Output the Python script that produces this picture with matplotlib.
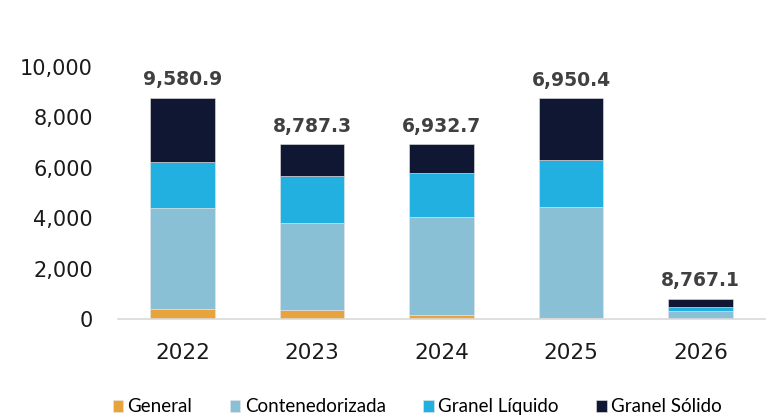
import matplotlib
matplotlib.use("Agg")
import matplotlib.pyplot as plt
import numpy as np

years = ["2022", "2023", "2024", "2025", "2026"]
general = [400, 360, 150, 50, 10]
contenedorizada = [4000, 3450, 3900, 4390, 320]
granel_liquido = [1830, 1860, 1740, 1870, 150]
granel_solido = [2557.3, 1262.7, 1160.4, 2457.1, 330]
total_labels = ["9,580.9", "8,787.3", "6,932.7", "6,950.4", "8,767.1"]

series = [
    ("General", general, "#E8A33D"),
    ("Contenedorizada", contenedorizada, "#89C0D6"),
    ("Granel Líquido", granel_liquido, "#22B0E0"),
    ("Granel Sólido", granel_solido, "#101733"),
]

plt.rcParams["font.family"] = ["Lato", "DejaVu Sans"]

fig = plt.figure(figsize=(7.73, 4.17), dpi=100)
ax = fig.add_axes([0.1527, 0.235, 0.837, 0.725])

x = np.arange(len(years))
bottom = np.zeros(len(years))
for name, vals, color in series:
    vals = np.array(vals, dtype=float)
    ax.bar(x, vals, width=0.5, bottom=bottom, color=color, label=name,
           edgecolor="#E6E6E6", linewidth=0.4)
    bottom += vals

for xi, top, lab in zip(x, bottom, total_labels):
    ax.annotate(lab, (xi, top), xytext=(0, 6), textcoords="offset points",
                ha="center", va="bottom", fontsize=13.5, fontweight="bold",
                color="#404040", family=["DejaVu Sans"])

ax.set_xlim(-0.5, 4.5)
ax.set_ylim(0, 12000)
ax.set_yticks(np.arange(0, 10001, 2000))
ax.set_yticklabels([f"{v:,}" for v in range(0, 10001, 2000)],
                   family=["DejaVu Sans"])
ax.set_xticks(x)
ax.set_xticklabels(years, family=["DejaVu Sans"])

for s in ["top", "right", "left"]:
    ax.spines[s].set_visible(False)
ax.spines["bottom"].set_color("#D9D9D9")
ax.spines["bottom"].set_linewidth(1.2)
ax.tick_params(axis="y", length=0, pad=18, labelsize=15, labelcolor="#1a1a1a")
ax.tick_params(axis="x", length=0, pad=17, labelsize=15.5, labelcolor="#1a1a1a")

fig.legend(loc="center", bbox_to_anchor=(0.54, 0.024), ncol=4, frameon=False,
           fontsize=13.5, handlelength=0.55, handleheight=0.55, handletextpad=0.25,
           columnspacing=2.0)

fig.savefig("out.png", dpi=100)
